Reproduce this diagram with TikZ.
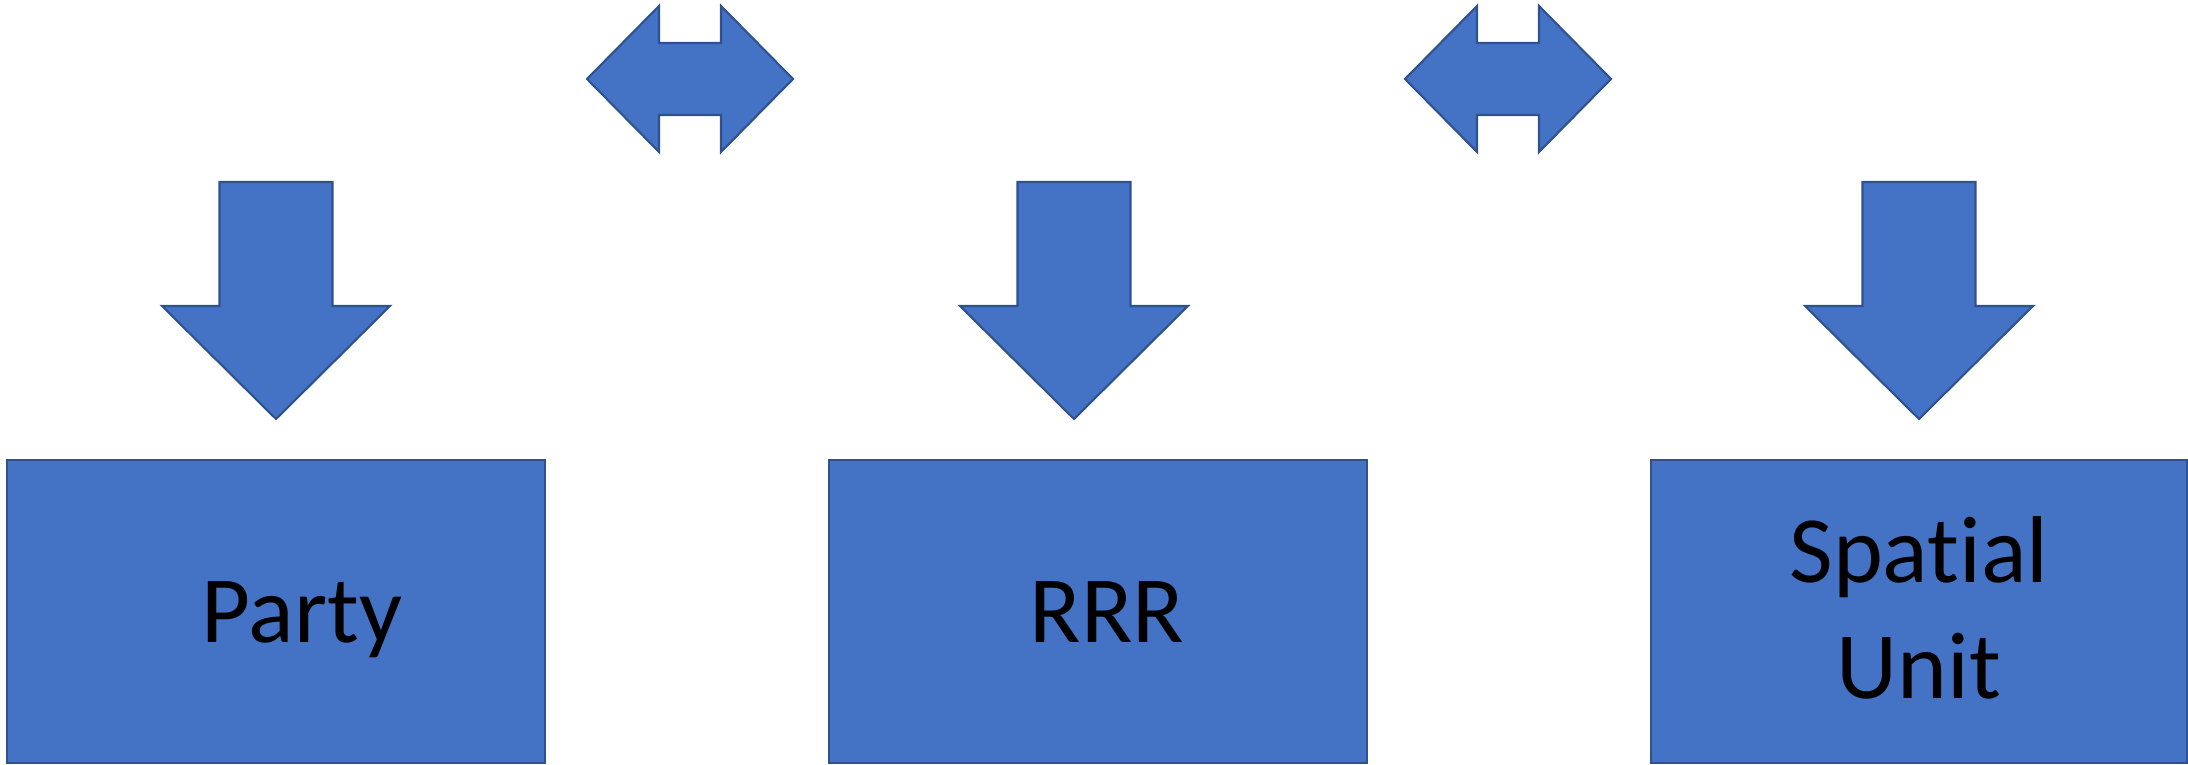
\documentclass[tikz,border=0pt]{standalone}
\usepackage{fontspec}
\setmainfont{Carlito}[Ligatures=NoCommon]
\usepackage{tikz}
\usetikzlibrary{calc}
\definecolor{blockfill}{HTML}{4472C4}
\definecolor{blockline}{HTML}{2F528F}
\tikzset{
  block/.style={fill=blockfill, draw=blockline, line width=0.6pt},
  entity/.style={block, rectangle, inner sep=0pt, minimum width=5.38cm, minimum height=3.03cm},
  entitytext/.style={font=\fontsize{27}{33}\selectfont, text=black, align=center}
}
\begin{document}
\begin{tikzpicture}[x=0.01cm,y=-0.01cm]
  \useasboundingbox (0,0) rectangle (2188,765);
  % the three entities
  \node [entity] (party) at (276,611.5) {};
  \node [entity] (rrr) at (1098,611.5) {};
  \node [entity, minimum width=5.36cm] (spatial) at (1919,611.5) {};
  \node [entitytext, anchor=base] (partytext) at (302,643) {Party};
  \node [entitytext, anchor=base] (rrrtext) at (1107,643) {RRR};
  \node [entitytext, anchor=base] (spatialtext) at (1919,699) {Spatial\\Unit};
  % down arrows over the entities
  \foreach \cx in {276, 1074, 1919}
    \draw[block] (\cx-56.5,182) -- (\cx+56.5,182) -- (\cx+56.5,306) -- (\cx+114,306)
      -- (\cx,419) -- (\cx-114,306) -- (\cx-56.5,306) -- cycle;
  % double arrows between them
  \foreach \lx in {587, 1405}
    \draw[block] (\lx,79) -- (\lx+72,6) -- (\lx+72,43) -- (\lx+134,43) -- (\lx+134,6)
      -- (\lx+206,79) -- (\lx+134,152) -- (\lx+134,115) -- (\lx+72,115) -- (\lx+72,152) -- cycle;
\end{tikzpicture}
\end{document}
